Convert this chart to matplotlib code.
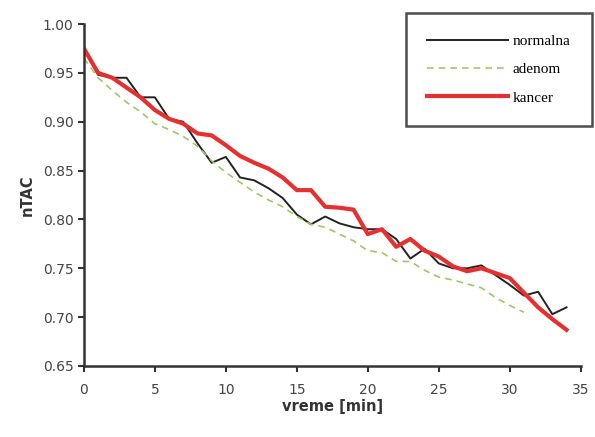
import matplotlib
matplotlib.use('Agg')
import matplotlib.pyplot as plt
import numpy as np

# nTAC vs time, sampled every minute
t_normalna = list(range(0, 35))
normalna = [0.975, 0.948, 0.945, 0.945, 0.925, 0.925, 0.903, 0.900, 0.878, 0.858,
            0.864, 0.843, 0.840, 0.832, 0.822, 0.805, 0.795, 0.803, 0.796, 0.792,
            0.790, 0.790, 0.780, 0.760, 0.770, 0.755, 0.750, 0.750, 0.753, 0.743,
            0.733, 0.722, 0.726, 0.703, 0.710]

t_adenom = list(range(0, 32))
adenom = [0.965, 0.945, 0.932, 0.920, 0.910, 0.898, 0.892, 0.885, 0.875, 0.860,
          0.848, 0.838, 0.828, 0.820, 0.813, 0.803, 0.795, 0.792, 0.785, 0.778,
          0.768, 0.766, 0.757, 0.757, 0.748, 0.741, 0.738, 0.734, 0.730, 0.720,
          0.712, 0.705]

t_kancer = list(range(0, 35))
kancer = [0.975, 0.950, 0.945, 0.935, 0.925, 0.912, 0.903, 0.898, 0.888, 0.886,
          0.876, 0.865, 0.858, 0.852, 0.843, 0.830, 0.830, 0.813, 0.812, 0.810,
          0.785, 0.790, 0.772, 0.780, 0.768, 0.762, 0.752, 0.747, 0.750, 0.745,
          0.740, 0.725, 0.710, 0.698, 0.687]

x_ticks = [0, 5, 10, 15, 20, 25, 30, 35]
y_ticks = [0.65, 0.70, 0.75, 0.80, 0.85, 0.90, 0.95, 1.00]

fig = plt.figure(figsize=(5.95, 4.37), dpi=100)
ax = fig.add_axes([0.141, 0.1625, 0.835, 0.7825])

ax.plot(t_normalna, normalna, color='#222222', linewidth=1.4, label='normalna')
ax.plot(t_adenom, adenom, color='#9cc86a', linewidth=1.2, linestyle=(0, (4, 3)), label='adenom')
ax.plot(t_kancer, kancer, color='#e53030', linewidth=3.0, label='kancer')

ax.set_xlim(0, 35)
ax.set_ylim(0.65, 1.00)
ax.set_xticks(x_ticks)
ax.set_yticks(y_ticks)
ax.set_xticklabels([str(v) for v in x_ticks])
ax.set_yticklabels(['%.2f' % v for v in y_ticks])

for side in ['top', 'right']:
    ax.spines[side].set_visible(False)
for side in ['left', 'bottom']:
    ax.spines[side].set_linewidth(1.8)
    ax.spines[side].set_color('#333333')
ax.tick_params(axis='both', direction='out', length=4, width=1.5,
               labelsize=10, colors='#333333', labelcolor='#444444')
ax.tick_params(axis='x', pad=8)

ax.set_xlabel('vreme [min]', fontsize=10.5, fontweight='bold', color='#333333', labelpad=2)
ax.set_ylabel('nTAC', fontsize=10.5, fontweight='bold', color='#333333', labelpad=6)

leg = fig.legend(loc='upper right', bbox_to_anchor=(592 / 595, 1 - 13 / 437),
                 bbox_transform=fig.transFigure, fancybox=False, frameon=True,
                 prop={'family': 'Liberation Serif', 'size': 11},
                 handlelength=5.3, handletextpad=0.3, labelspacing=0.95,
                 borderpad=1.4, borderaxespad=0)
leg.get_frame().set_edgecolor('#222222')
leg.get_frame().set_linewidth(1.8)

fig.savefig('out.png', dpi=100)
